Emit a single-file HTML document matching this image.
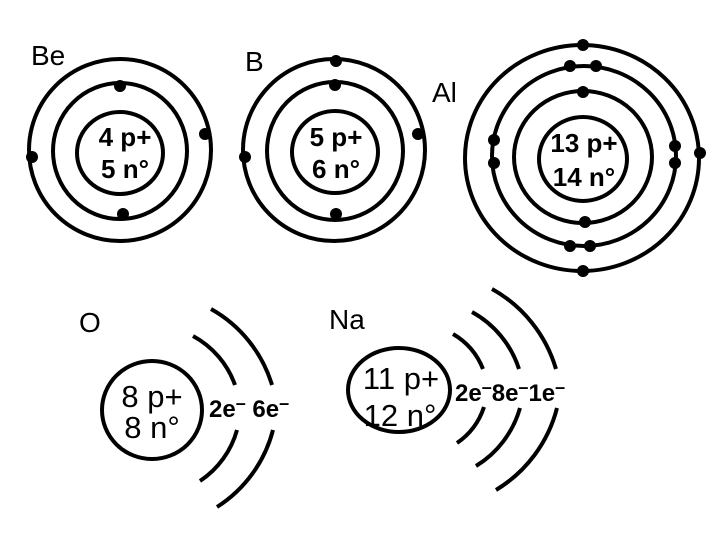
<!DOCTYPE html>
<html><head><meta charset="utf-8"><style>html,body{margin:0;padding:0;background:#fff}svg{display:block}</style></head>
<body>
<svg width="720" height="540" viewBox="0 0 720 540" xmlns="http://www.w3.org/2000/svg">
<g fill="none" stroke="#000" stroke-width="4">
<ellipse cx="120" cy="150" rx="91" ry="91"/>
<ellipse cx="120" cy="151" rx="67" ry="68"/>
<ellipse cx="120" cy="153" rx="43" ry="41"/>
<ellipse cx="334" cy="150" rx="91" ry="91"/>
<ellipse cx="335" cy="151" rx="68" ry="69"/>
<ellipse cx="335" cy="152" rx="43" ry="41"/>
<ellipse cx="582" cy="158" rx="117" ry="113"/>
<ellipse cx="584" cy="156" rx="92" ry="90"/>
<ellipse cx="583" cy="157" rx="69" ry="66"/>
<ellipse cx="583" cy="159" rx="44" ry="42"/>
<ellipse cx="152" cy="410" rx="50" ry="49"/>
<path d="M193 336 A90 90 0 0 1 235 385"/>
<path d="M237 430 A90 90 0 0 1 200 481"/>
<path d="M211 309 A130 130 0 0 1 272 385"/>
<path d="M273 430 A130 130 0 0 1 217 507"/>
<ellipse cx="399" cy="390" rx="51" ry="42"/>
<path d="M453 334 A70 70 0 0 1 483 369"/>
<path d="M484 407 A70 70 0 0 1 457 443"/>
<path d="M472 312 A100 100 0 0 1 519 369"/>
<path d="M520 408 A100 100 0 0 1 476 466"/>
<path d="M492 289 A135 135 0 0 1 556 369"/>
<path d="M557 408 A135 135 0 0 1 496 490"/>
</g>
<g fill="#000">
<circle cx="120" cy="86" r="6"/><circle cx="123" cy="214" r="6"/><circle cx="32" cy="157" r="6"/><circle cx="205" cy="134" r="6"/>
<circle cx="336" cy="61" r="6"/><circle cx="335" cy="85" r="6"/><circle cx="336" cy="214" r="6"/><circle cx="245" cy="157" r="6"/><circle cx="418" cy="134" r="6"/>
<circle cx="583" cy="45" r="6"/><circle cx="583" cy="271" r="6"/><circle cx="700" cy="153" r="6"/>
<circle cx="570" cy="66" r="6"/><circle cx="596" cy="66" r="6"/><circle cx="570" cy="246" r="6"/><circle cx="590" cy="246" r="6"/>
<circle cx="494" cy="140" r="6"/><circle cx="494" cy="163" r="6"/><circle cx="675" cy="146" r="6"/><circle cx="675" cy="163" r="6"/>
<circle cx="583" cy="92" r="6"/><circle cx="585" cy="222" r="6"/>
</g>
<g font-family="Liberation Sans, sans-serif" fill="#000">
<text x="31" y="65" font-size="28">Be</text>
<text x="245" y="71" font-size="28">B</text>
<text x="432" y="102" font-size="28">Al</text>
<text x="79" y="332" font-size="28">O</text>
<text x="329" y="329" font-size="28">Na</text>
<g font-weight="bold" font-size="26" text-anchor="middle">
<text x="125" y="146">4 p+</text><text x="125" y="178">5 n°</text>
<text x="336" y="146">5 p+</text><text x="336" y="178">6 n°</text>
<text x="584" y="152">13 p+</text><text x="584" y="186">14 n°</text>
</g>
<g font-size="31" text-anchor="middle">
<text x="152" y="407">8 p+</text><text x="152" y="438">8 n°</text>
<text x="401" y="389">11 p+</text><text x="400" y="426">12 n°</text>
</g>
<g font-weight="bold" font-size="24">
<text x="209" y="417">2e<tspan dy="-8" font-size="18">–</tspan><tspan dy="8"> 6e</tspan><tspan dy="-8" font-size="18">–</tspan></text>
<text x="455" y="401">2e<tspan dy="-8" font-size="18">–</tspan><tspan dy="8">8e</tspan><tspan dy="-8" font-size="18">–</tspan><tspan dy="8">1e</tspan><tspan dy="-8" font-size="18">–</tspan></text>
</g>
</g>
</svg>
</body></html>
